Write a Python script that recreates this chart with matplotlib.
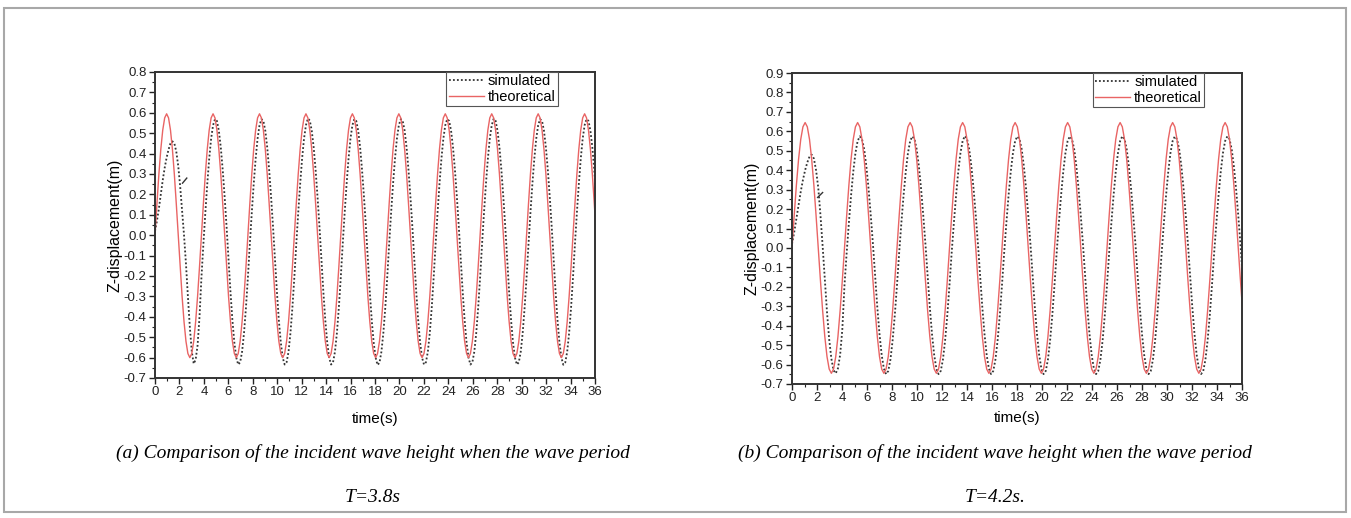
import matplotlib
matplotlib.use("Agg")
import matplotlib.pyplot as plt
import numpy as np
from matplotlib.patches import Rectangle
from matplotlib.ticker import MultipleLocator, FormatStrFormatter

# -----------------------------
# Wave records (z in metres), one row = half a period
# -----------------------------
# (a) T = 3.8 s, sampled every T/24
period_a = 3.8
theory_a = [
    0.0, 0.154, 0.298, 0.421, 0.515, 0.575, 0.595, 0.575, 0.515, 0.421, 0.298, 0.154,
    0.0, -0.155, -0.30, -0.424, -0.52, -0.58, -0.60, -0.58, -0.52, -0.424, -0.30, -0.155,
    0.0, 0.154, 0.298, 0.421, 0.515, 0.575, 0.595, 0.575, 0.515, 0.421, 0.298, 0.154,
    0.0, -0.155, -0.30, -0.424, -0.52, -0.58, -0.60, -0.58, -0.52, -0.424, -0.30, -0.155,
    0.0, 0.154, 0.298, 0.421, 0.515, 0.575, 0.595, 0.575, 0.515, 0.421, 0.298, 0.154,
    0.0, -0.155, -0.30, -0.424, -0.52, -0.58, -0.60, -0.58, -0.52, -0.424, -0.30, -0.155,
    0.0, 0.154, 0.298, 0.421, 0.515, 0.575, 0.595, 0.575, 0.515, 0.421, 0.298, 0.154,
    0.0, -0.155, -0.30, -0.424, -0.52, -0.58, -0.60, -0.58, -0.52, -0.424, -0.30, -0.155,
    0.0, 0.154, 0.298, 0.421, 0.515, 0.575, 0.595, 0.575, 0.515, 0.421, 0.298, 0.154,
    0.0, -0.155, -0.30, -0.424, -0.52, -0.58, -0.60, -0.58, -0.52, -0.424, -0.30, -0.155,
    0.0, 0.154, 0.298, 0.421, 0.515, 0.575, 0.595, 0.575, 0.515, 0.421, 0.298, 0.154,
    0.0, -0.155, -0.30, -0.424, -0.52, -0.58, -0.60, -0.58, -0.52, -0.424, -0.30, -0.155,
    0.0, 0.154, 0.298, 0.421, 0.515, 0.575, 0.595, 0.575, 0.515, 0.421, 0.298, 0.154,
    0.0, -0.155, -0.30, -0.424, -0.52, -0.58, -0.60, -0.58, -0.52, -0.424, -0.30, -0.155,
    0.0, 0.154, 0.298, 0.421, 0.515, 0.575, 0.595, 0.575, 0.515, 0.421, 0.298, 0.154,
    0.0, -0.155, -0.30, -0.424, -0.52, -0.58, -0.60, -0.58, -0.52, -0.424, -0.30, -0.155,
    0.0, 0.154, 0.298, 0.421, 0.515, 0.575, 0.595, 0.575, 0.515, 0.421, 0.298, 0.154,
    0.0, -0.155, -0.30, -0.424, -0.52, -0.58, -0.60, -0.58, -0.52, -0.424, -0.30, -0.155,
    0.0, 0.154, 0.298, 0.421, 0.515, 0.575, 0.595, 0.575, 0.515, 0.421, 0.298, 0.154,
    0.0,
]
sim_a = [
    0.02, 0.07, 0.13, 0.20, 0.27, 0.33, 0.38, 0.42, 0.45, 0.46, 0.45, 0.41,
    0.34, 0.24, 0.12, 0.00, -0.14, -0.30, -0.45, -0.57, -0.63, -0.61, -0.54, -0.40,
    -0.207, -0.044, 0.109, 0.250, 0.374, 0.473, 0.539, 0.569, 0.560, 0.512, 0.430, 0.319,
    0.186, 0.040, -0.121, -0.278, -0.417, -0.526, -0.600, -0.634, -0.623, -0.571, -0.479, -0.355,
    -0.207, -0.044, 0.109, 0.250, 0.374, 0.473, 0.539, 0.569, 0.560, 0.512, 0.430, 0.319,
    0.186, 0.040, -0.121, -0.278, -0.417, -0.526, -0.600, -0.634, -0.623, -0.571, -0.479, -0.355,
    -0.207, -0.044, 0.109, 0.250, 0.374, 0.473, 0.539, 0.572, 0.562, 0.512, 0.430, 0.319,
    0.186, 0.040, -0.121, -0.278, -0.417, -0.526, -0.600, -0.634, -0.623, -0.571, -0.479, -0.355,
    -0.207, -0.044, 0.109, 0.250, 0.374, 0.473, 0.539, 0.569, 0.560, 0.512, 0.430, 0.319,
    0.186, 0.040, -0.121, -0.278, -0.417, -0.526, -0.600, -0.636, -0.625, -0.571, -0.479, -0.355,
    -0.207, -0.044, 0.109, 0.250, 0.374, 0.473, 0.539, 0.569, 0.560, 0.512, 0.430, 0.319,
    0.186, 0.040, -0.121, -0.278, -0.417, -0.526, -0.600, -0.634, -0.623, -0.571, -0.479, -0.355,
    -0.207, -0.044, 0.109, 0.250, 0.374, 0.473, 0.539, 0.569, 0.560, 0.512, 0.430, 0.319,
    0.186, 0.040, -0.121, -0.278, -0.417, -0.526, -0.600, -0.634, -0.623, -0.571, -0.479, -0.355,
    -0.207, -0.044, 0.109, 0.250, 0.374, 0.473, 0.539, 0.571, 0.561, 0.512, 0.430, 0.319,
    0.186, 0.040, -0.121, -0.278, -0.417, -0.526, -0.600, -0.634, -0.623, -0.571, -0.479, -0.355,
    -0.207, -0.044, 0.109, 0.250, 0.374, 0.473, 0.539, 0.569, 0.560, 0.512, 0.430, 0.319,
    0.186, 0.040, -0.121, -0.278, -0.417, -0.526, -0.600, -0.635, -0.624, -0.571, -0.479, -0.355,
    -0.207, -0.044, 0.109, 0.250, 0.374, 0.473, 0.539, 0.569, 0.560, 0.512, 0.430, 0.319,
    0.186,
]
# short stray segment in the simulated record
glitch_a_t = [2.25, 2.60]
glitch_a_z = [0.255, 0.28]

# (b) T = 4.2 s, sampled every T/24
period_b = 4.2
theory_b = [
    0.0, 0.167, 0.3225, 0.456, 0.559, 0.623, 0.645, 0.623, 0.559, 0.456, 0.3225, 0.167,
    0.0, -0.167, -0.3225, -0.456, -0.559, -0.623, -0.645, -0.623, -0.559, -0.456, -0.3225, -0.167,
    0.0, 0.167, 0.3225, 0.456, 0.559, 0.623, 0.645, 0.623, 0.559, 0.456, 0.3225, 0.167,
    0.0, -0.167, -0.3225, -0.456, -0.559, -0.623, -0.645, -0.623, -0.559, -0.456, -0.3225, -0.167,
    0.0, 0.167, 0.3225, 0.456, 0.559, 0.623, 0.645, 0.623, 0.559, 0.456, 0.3225, 0.167,
    0.0, -0.167, -0.3225, -0.456, -0.559, -0.623, -0.645, -0.623, -0.559, -0.456, -0.3225, -0.167,
    0.0, 0.167, 0.3225, 0.456, 0.559, 0.623, 0.645, 0.623, 0.559, 0.456, 0.3225, 0.167,
    0.0, -0.167, -0.3225, -0.456, -0.559, -0.623, -0.645, -0.623, -0.559, -0.456, -0.3225, -0.167,
    0.0, 0.167, 0.3225, 0.456, 0.559, 0.623, 0.645, 0.623, 0.559, 0.456, 0.3225, 0.167,
    0.0, -0.167, -0.3225, -0.456, -0.559, -0.623, -0.645, -0.623, -0.559, -0.456, -0.3225, -0.167,
    0.0, 0.167, 0.3225, 0.456, 0.559, 0.623, 0.645, 0.623, 0.559, 0.456, 0.3225, 0.167,
    0.0, -0.167, -0.3225, -0.456, -0.559, -0.623, -0.645, -0.623, -0.559, -0.456, -0.3225, -0.167,
    0.0, 0.167, 0.3225, 0.456, 0.559, 0.623, 0.645, 0.623, 0.559, 0.456, 0.3225, 0.167,
    0.0, -0.167, -0.3225, -0.456, -0.559, -0.623, -0.645, -0.623, -0.559, -0.456, -0.3225, -0.167,
    0.0, 0.167, 0.3225, 0.456, 0.559, 0.623, 0.645, 0.623, 0.559, 0.456, 0.3225, 0.167,
    0.0, -0.167, -0.3225, -0.456, -0.559, -0.623, -0.645, -0.623, -0.559, -0.456, -0.3225, -0.167,
    0.0, 0.167, 0.3225, 0.456, 0.559, 0.623, 0.645, 0.623, 0.559, 0.456, 0.3225, 0.167,
    0.0, -0.167, -0.3225,
]
sim_b = [
    0.02, 0.08, 0.15, 0.22, 0.29, 0.35, 0.40, 0.44, 0.47, 0.48, 0.46, 0.40,
    0.31, 0.17, 0.01, -0.16, -0.33, -0.47, -0.57, -0.63, -0.645, -0.62, -0.55, -0.42,
    -0.190, -0.023, 0.129, 0.270, 0.392, 0.488, 0.550, 0.574, 0.560, 0.508, 0.420, 0.305,
    0.168, 0.020, -0.146, -0.305, -0.443, -0.551, -0.621, -0.649, -0.633, -0.574, -0.475, -0.345,
    -0.190, -0.023, 0.129, 0.270, 0.392, 0.488, 0.550, 0.574, 0.560, 0.508, 0.420, 0.305,
    0.168, 0.020, -0.146, -0.305, -0.443, -0.551, -0.621, -0.649, -0.633, -0.574, -0.475, -0.345,
    -0.190, -0.023, 0.129, 0.270, 0.392, 0.488, 0.550, 0.576, 0.562, 0.508, 0.420, 0.305,
    0.168, 0.020, -0.146, -0.305, -0.443, -0.551, -0.621, -0.649, -0.633, -0.574, -0.475, -0.345,
    -0.190, -0.023, 0.129, 0.270, 0.392, 0.488, 0.550, 0.574, 0.560, 0.508, 0.420, 0.305,
    0.168, 0.020, -0.146, -0.305, -0.443, -0.551, -0.621, -0.649, -0.633, -0.574, -0.475, -0.345,
    -0.190, -0.023, 0.129, 0.270, 0.392, 0.488, 0.550, 0.574, 0.560, 0.508, 0.420, 0.305,
    0.168, 0.020, -0.146, -0.305, -0.443, -0.551, -0.621, -0.649, -0.633, -0.574, -0.475, -0.345,
    -0.190, -0.023, 0.129, 0.270, 0.392, 0.488, 0.550, 0.575, 0.561, 0.508, 0.420, 0.305,
    0.168, 0.020, -0.146, -0.305, -0.443, -0.551, -0.621, -0.649, -0.633, -0.574, -0.475, -0.345,
    -0.190, -0.023, 0.129, 0.270, 0.392, 0.488, 0.550, 0.574, 0.560, 0.508, 0.420, 0.305,
    0.168, 0.020, -0.146, -0.305, -0.443, -0.551, -0.621, -0.649, -0.633, -0.574, -0.475, -0.345,
    -0.190, -0.023, 0.129, 0.270, 0.392, 0.488, 0.550, 0.574, 0.560, 0.508, 0.420, 0.305,
    0.168, 0.020, -0.146,
]
glitch_b_t = [2.05, 2.45]
glitch_b_z = [0.26, 0.285]

captions = [
    ("(a) Comparison of the incident wave height when the wave period", "T=3.8s"),
    ("(b) Comparison of the incident wave height when the wave period", "T=4.2s."),
]

plt.rcParams["font.family"] = ["Liberation Sans", "DejaVu Sans"]
plt.rcParams["axes.unicode_minus"] = False

W, H = 1351, 518
fig = plt.figure(figsize=(W / 100, H / 100), dpi=100)

# outer frame
fig.add_artist(Rectangle((4 / W, 6 / H), 1342 / W, 504 / H, transform=fig.transFigure,
                         fill=False, edgecolor="#a8a8a8", linewidth=1.5))

panels = [
    dict(rect=[155 / W, 1 - 378 / H, 440 / W, 306 / H], period=period_a,
         theory=theory_a, sim=sim_a, gt=glitch_a_t, gz=glitch_a_z, ylim=(-0.7, 0.8),
         xpad=10),
    dict(rect=[792 / W, 1 - 384 / H, 450 / W, 311 / H], period=period_b,
         theory=theory_b, sim=sim_b, gt=glitch_b_t, gz=glitch_b_z, ylim=(-0.7, 0.9),
         xpad=5),
]

for p in panels:
    ax = fig.add_axes(p["rect"])
    t = np.arange(len(p["theory"])) * p["period"] / 24

    ax.plot(t, p["sim"], color="#333333", linestyle=(0, (1, 1.2)),
            linewidth=1.3, label="simulated")
    ax.plot(t, p["theory"], color="#e96464", linewidth=1.0, label="theoretical")
    ax.plot(p["gt"], p["gz"], color="#333333", linewidth=1.0)

    ax.set_xlim(0, 36)
    ax.set_ylim(*p["ylim"])
    ax.xaxis.set_major_locator(MultipleLocator(2))
    ax.xaxis.set_minor_locator(MultipleLocator(1))
    ax.yaxis.set_major_locator(MultipleLocator(0.1))
    ax.yaxis.set_minor_locator(MultipleLocator(0.05))
    ax.yaxis.set_major_formatter(FormatStrFormatter("%.1f"))
    ax.tick_params(which="both", direction="out", top=False, right=False,
                   labelsize=9.5, colors="#222222", pad=2)
    ax.tick_params(which="major", length=4, width=1.0)
    ax.tick_params(which="minor", length=2.5, width=0.8)
    for s in ax.spines.values():
        s.set_linewidth(1.4)
        s.set_color("#333333")

    ax.set_xlabel("time(s)", fontsize=11, labelpad=p["xpad"])
    ax.set_ylabel("Z-displacement(m)", fontsize=11.5, labelpad=1)

    leg = ax.legend(loc="upper right", bbox_to_anchor=(0.916, 1.0), borderaxespad=0,
                    fancybox=False, framealpha=1, edgecolor="#555555", fontsize=10.5,
                    handlelength=2.4, handletextpad=0.3, borderpad=0.15,
                    labelspacing=0.1)
    leg.get_frame().set_linewidth(0.8)

# captions under each panel
for cx, (line1, line2) in zip([373, 995], captions):
    fig.text(cx / W, 1 - 453 / H, line1, ha="center", va="center",
             family="Liberation Serif", style="italic", fontsize=14)
    fig.text(cx / W, 1 - 497 / H, line2, ha="center", va="center",
             family="Liberation Serif", style="italic", fontsize=14)

fig.savefig("out.png", dpi=100)
